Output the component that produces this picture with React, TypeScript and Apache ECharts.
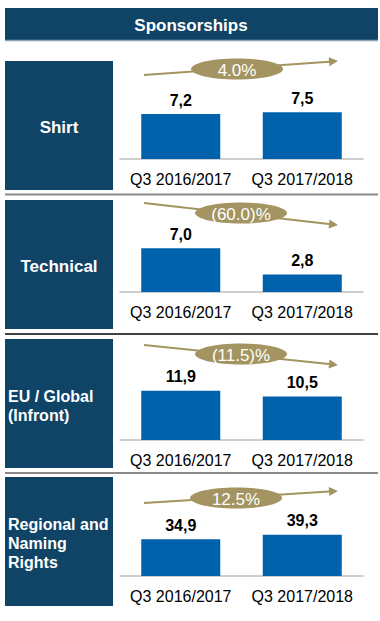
import React, { useEffect, useRef } from "react";
import * as echarts from "echarts";

const categories = ["Q3 2016/2017", "Q3 2017/2018"];
const panelTitles = ["Shirt", "Technical", "EU / Global\n(Infront)", "Regional and\nNaming\nRights"];
const shirtValues = [7.2, 7.5];
const technicalValues = [7.0, 2.8];
const euGlobalValues = [11.9, 10.5];
const regionalValues = [34.9, 39.3];
const growthLabels = ["4.0%", "(60.0)%", "(11.5)%", "12.5%"];
const axisMax = [12.8, 12.8, 19.3, 76];

const FONT = "'Liberation Sans', Arial, sans-serif";
const NAVY = "#0f4466";
const BAR = "#0061ad";
const GOLD = "#a39461";

const panelValues = [shirtValues, technicalValues, euGlobalValues, regionalValues];
const baselines = [159, 292, 440, 576];
const boxTops = [61, 200, 339, 477];
const boxH = 129;
const arrows = [
  { y1: 75, y2: 61, cx: 237, cy: 69 },
  { y1: 203, y2: 225, cx: 241, cy: 213 },
  { y1: 345, y2: 365, cx: 241, cy: 354 },
  { y1: 503, y2: 491, cx: 236, cy: 498 },
];

export default function App() {
  const ref = useRef<HTMLDivElement>(null);
  useEffect(() => {
    document.body.style.margin = "0";
    const chart = echarts.init(ref.current!, undefined, { renderer: "svg" });
    const gridH = 80;
    const grids = baselines.map((b) => ({ left: 120, width: 243, top: b - gridH, height: gridH }));
    const xAxis = baselines.map((_, i) => ({
      type: "category",
      gridIndex: i,
      data: categories,
      axisLine: { lineStyle: { color: "#bfbfbf", width: 1.5 } },
      axisTick: { show: false },
      axisLabel: { interval: 0, fontSize: 16, color: "#000", fontFamily: FONT, margin: 12 },
    }));
    const yAxis = baselines.map((_, i) => ({
      type: "value",
      gridIndex: i,
      min: 0,
      max: axisMax[i],
      show: false,
      splitLine: { show: false },
    }));
    const series = panelValues.map((vals, i) => ({
      type: "bar",
      xAxisIndex: i,
      yAxisIndex: i,
      data: vals,
      barWidth: 79,
      itemStyle: { color: BAR },
      label: {
        show: true,
        position: "top",
        distance: 6,
        fontSize: 16,
        fontWeight: "bold",
        color: "#000",
        fontFamily: FONT,
        formatter: (p: any) => Number(p.value).toFixed(1).replace(".", ","),
      },
    }));

    const graphic: any[] = [];
    graphic.push({
      type: "rect",
      shape: { x: 5, y: 8, width: 373, height: 32 },
      style: { fill: NAVY },
    });
    graphic.push({
      type: "line",
      shape: { x1: 5, y1: 40.5, x2: 378, y2: 40.5 },
      style: { stroke: "#8aa3b5", lineWidth: 1.5 },
    });
    graphic.push({
      type: "text",
      x: 191,
      y: 25,
      style: {
        text: "Sponsorships",
        fill: "#fff",
        font: `bold 17px ${FONT}`,
        align: "center",
        verticalAlign: "middle",
      },
    });
    const seps = [
      { y: 194.5, c: "#8a8a8a", w: 2 },
      { y: 334, c: "#000", w: 1.5 },
      { y: 473, c: "#8a8a8a", w: 2 },
    ];
    seps.forEach((s) =>
      graphic.push({
        type: "line",
        shape: { x1: 5, y1: s.y, x2: 378, y2: s.y },
        style: { stroke: s.c, lineWidth: s.w },
      })
    );
    boxTops.forEach((t, i) => {
      graphic.push({
        type: "rect",
        shape: { x: 5, y: t, width: 108, height: boxH },
        style: { fill: NAVY },
      });
      const multi = panelTitles[i].includes("\n");
      graphic.push({
        type: "text",
        x: multi ? 8 : 59,
        y: t + boxH / 2 + 2,
        style: {
          text: panelTitles[i],
          fill: "#fff",
          font: `bold ${multi ? 16 : 17}px ${FONT}`,
          lineHeight: 19,
          align: multi ? "left" : "center",
          verticalAlign: "middle",
        },
      });
    });
    arrows.forEach((a, i) => {
      const x1 = 144;
      const x2 = 338;
      const ang = Math.atan2(a.y2 - a.y1, x2 - x1);
      const hl = 9;
      const hw = 4.5;
      const bx = x2 - hl * Math.cos(ang);
      const by = a.y2 - hl * Math.sin(ang);
      const px = -Math.sin(ang) * hw;
      const py = Math.cos(ang) * hw;
      graphic.push({
        type: "line",
        shape: { x1, y1: a.y1, x2: bx, y2: by },
        style: { stroke: GOLD, lineWidth: 2 },
      });
      graphic.push({
        type: "polygon",
        shape: { points: [[x2, a.y2], [bx + px, by + py], [bx - px, by - py]] },
        style: { fill: GOLD },
      });
      graphic.push({
        type: "ellipse",
        shape: { cx: a.cx, cy: a.cy, rx: 46, ry: 10.5 },
        style: { fill: GOLD },
      });
      graphic.push({
        type: "text",
        x: a.cx,
        y: a.cy + 1,
        style: {
          text: growthLabels[i],
          fill: "#fff",
          font: `17px ${FONT}`,
          align: "center",
          verticalAlign: "middle",
        },
      });
    });

    chart.setOption({
      animation: false,
      grid: grids,
      xAxis,
      yAxis,
      series,
      graphic,
    });
    return () => chart.dispose();
  }, []);
  return <div ref={ref} style={{ width: 380, height: 621 }} />;
}
